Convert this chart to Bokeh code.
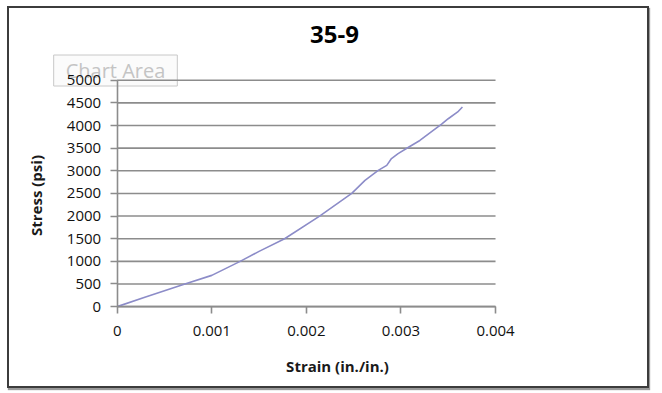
import math
from bokeh.plotting import figure
from bokeh.layouts import row
from bokeh.models import Range1d, FixedTicker, Label, CustomJSTickFormatter, Spacer
from bokeh.embed import file_html
from bokeh.resources import INLINE

# ---- data ----
title_text = "35-9"
x_title = "Strain (in./in.)"
y_title = "Stress (psi)"
strain = [0, 0.0003, 0.0007, 0.001, 0.0013, 0.0015, 0.00177, 0.00214, 0.00248,
          0.00262, 0.00276, 0.00285, 0.0029, 0.00297, 0.00308, 0.0032, 0.00332,
          0.00343, 0.0035, 0.0036, 0.00365]
stress = [0, 210, 490, 690, 1000, 1220, 1500, 2000, 2500,
          2790, 3010, 3120, 3270, 3380, 3520, 3670, 3860,
          4030, 4150, 4300, 4410]
x_ticks = [0, 0.001, 0.002, 0.003, 0.004]
y_ticks = [0, 500, 1000, 1500, 2000, 2500, 3000, 3500, 4000, 4500, 5000]
x_lo, x_hi = x_ticks[0], x_ticks[-1]
y_lo, y_hi = y_ticks[0], y_ticks[-1]

FONT = "Open Sans"
GRID = "#8c8c8c"

# layout (pixels inside the chart box)
W, H = 638, 378
PL, PR, PT, PB = 107, 483, 71, 295          # plot area edges (from left / top)
xs = (x_hi - x_lo) / (PR - PL)
ys = (y_hi - y_lo) / (PB - PT)

p = figure(width=W, height=H, output_backend="svg", toolbar_location=None,
           x_range=Range1d(x_lo - PL * xs, x_hi + (W - PR) * xs),
           y_range=Range1d(y_lo - (H - PB) * ys, y_hi + PT * ys),
           min_border=0, min_border_left=0, min_border_right=0,
           min_border_top=0, min_border_bottom=0)
p.title.visible = False
p.styles = {"border": "2px solid #3c3c3c", "box-shadow": "1px 2px 1px #9a9a9a",
            "box-sizing": "content-box", "margin-top": "6px"}
p.background_fill_color = "white"
p.border_fill_color = "white"
p.outline_line_color = None

# horizontal gridlines limited to the plot area
p.xgrid.visible = False
p.ygrid.visible = False
p.segment(x0=x_lo, x1=x_hi, y0=y_ticks, y1=y_ticks, line_color=GRID, line_width=1.6)

p.line(strain, stress, line_color="#8c8cc8", line_width=1.6)

for ax in (p.xaxis[0], p.yaxis[0]):
    ax.axis_line_color = GRID
    ax.axis_line_width = 1.6
    ax.major_tick_line_color = GRID
    ax.major_tick_line_width = 1.6
    ax.major_tick_in = 0
    ax.major_tick_out = 7
    ax.minor_tick_line_color = None
    ax.major_label_text_font = FONT
    ax.major_label_text_font_size = "15px"
    ax.major_label_text_color = "#111111"

p.yaxis.major_label_standoff = 9
p.xaxis.major_label_standoff = 12
p.xaxis.fixed_location = y_lo
p.yaxis.fixed_location = x_lo
p.xaxis.bounds = (x_lo, x_hi)
p.yaxis.bounds = (y_lo, y_hi)
p.xaxis.ticker = FixedTicker(ticks=x_ticks)
p.yaxis.ticker = FixedTicker(ticks=y_ticks)
p.xaxis.formatter = CustomJSTickFormatter(code="return String(parseFloat(tick.toFixed(6)))")
p.yaxis.formatter = CustomJSTickFormatter(code="return String(Math.round(tick))")

# titles (screen units, from the bottom-left of the chart box)
p.add_layout(Label(x=325, y=356, x_units="screen", y_units="screen", text=title_text,
                   text_font=FONT, text_font_style="bold", text_font_size="24px",
                   text_align="center", text_baseline="middle", text_color="black"))
p.add_layout(Label(x=328, y=25, x_units="screen", y_units="screen", text=x_title,
                   text_font=FONT, text_font_style="bold", text_font_size="15px",
                   text_align="center", text_baseline="middle", text_color="#1a1a1a"))
p.add_layout(Label(x=26, y=195, x_units="screen", y_units="screen", text=y_title,
                   angle=math.pi / 2, text_font=FONT, text_font_style="bold",
                   text_font_size="15px", text_align="center", text_baseline="middle",
                   text_color="#1a1a1a"))
# "Chart Area" tooltip seen in the picture (drawn beneath grid and axes)
p.add_layout(Label(x=109, y=317, x_units="screen", y_units="screen", text="Chart Area",
                   text_font=FONT, text_font_size="20px", text_align="center",
                   text_baseline="middle", text_alpha=0.0,
                   background_fill_color="#9a9a9a", background_fill_alpha=0.6,
                   padding=dict(x=12, y=2), level="image"))
p.add_layout(Label(x=106, y=320, x_units="screen", y_units="screen", text="Chart Area",
                   text_font=FONT, text_font_size="20px", text_align="center",
                   text_baseline="middle", text_color="#c4c4c4",
                   background_fill_color="#fbfbfb", border_line_color="#c8c8c8",
                   padding=dict(x=12, y=2), level="image"))

layout = row(Spacer(width=7, height=H), p)
open("out.html", "w").write(file_html(layout, INLINE))
